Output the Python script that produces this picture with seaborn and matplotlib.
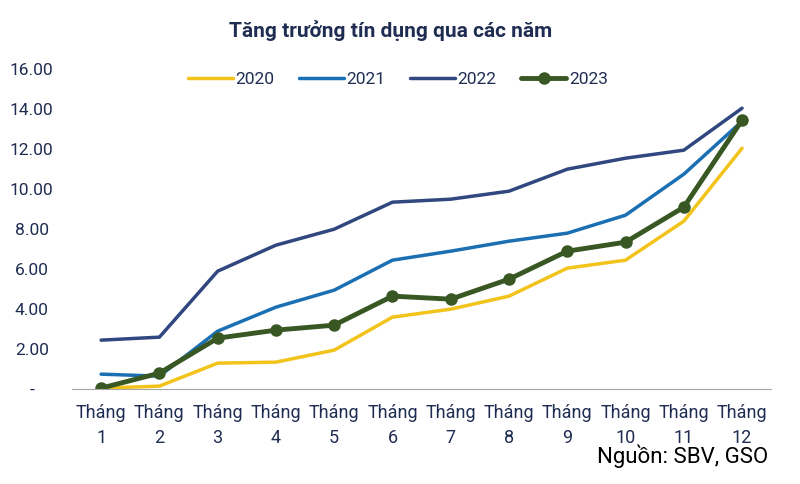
import seaborn as sns
import pandas as pd
import matplotlib.pyplot as plt

# data (% credit growth, cumulative by month)
months = list(range(1, 13))
month_labels = ["Tháng\n%d" % m for m in months]
g2020 = [0.05, 0.15, 1.30, 1.35, 1.95, 3.60, 4.00, 4.65, 6.05, 6.45, 8.40, 12.05]
g2021 = [0.75, 0.65, 2.90, 4.10, 4.95, 6.45, 6.90, 7.40, 7.80, 8.70, 10.75, 13.40]
g2022 = [2.45, 2.60, 5.90, 7.20, 8.00, 9.35, 9.50, 9.90, 11.00, 11.55, 11.95, 14.05]
g2023 = [0.05, 0.80, 2.55, 2.95, 3.20, 4.65, 4.50, 5.50, 6.90, 7.35, 9.10, 13.45]
y_ticks = [0, 2, 4, 6, 8, 10, 12, 14, 16]
y_labels = ["-", "2.00", "4.00", "6.00", "8.00", "10.00", "12.00", "14.00", "16.00"]

sns.set_style("white")
plt.rcParams['font.family'] = ['Roboto', 'DejaVu Sans']
navy = "#1F2D52"

df = pd.DataFrame({"month": months, "2020": g2020, "2021": g2021,
                   "2022": g2022, "2023": g2023})

fig = plt.figure(figsize=(8, 4.84), dpi=100)
ax = fig.add_axes([0.09, 0.196, 0.874, 0.661])

sns.lineplot(data=df, x="month", y="2020", color="#F2C31B", linewidth=2.5, label="2020", ax=ax)
sns.lineplot(data=df, x="month", y="2021", color="#1B6FB3", linewidth=2.5, label="2021", ax=ax)
sns.lineplot(data=df, x="month", y="2022", color="#30487F", linewidth=2.5, label="2022", ax=ax)
sns.lineplot(data=df, x="month", y="2023", color="#385723", linewidth=3.5, marker="o",
             markersize=9, markeredgewidth=0, label="2023", ax=ax)

ax.set_xlim(0.5, 12.5)
ax.set_ylim(0, 16)
ax.set_yticks(y_ticks)
ax.set_yticklabels(y_labels, fontsize=12.5, color=navy)
ax.set_xticks(months)
ax.set_xticklabels(month_labels, fontsize=13, color=navy, linespacing=1.45)
ax.set_xticks([m + 0.5 for m in [0] + months], minor=True)
ax.tick_params(axis="x", which="major", length=0, pad=11)
ax.tick_params(axis="x", which="minor", length=6, color="#A6A6A6", width=1, direction="out")
ax.tick_params(axis="y", length=0, pad=29)
for lab in ax.get_yticklabels():
    lab.set_horizontalalignment("center")
ax.set_xlabel("")
ax.set_ylabel("")
for s in ["top", "right", "left"]:
    ax.spines[s].set_visible(False)
ax.spines["bottom"].set_color("#A6A6A6")

ax.legend(loc="upper center", bbox_to_anchor=(0.466, 1.04), ncol=4, frameon=False,
          fontsize=12.5, handlelength=2.6, columnspacing=1.4, handletextpad=0.15,
          labelcolor=navy)

fig.text(0.488, 0.937, "Tăng trưởng tín dụng qua các năm", ha="center", va="center",
         fontsize=15, fontweight="bold", color=navy)
fig.text(0.96, 0.058, "Nguồn: SBV, GSO", ha="right", va="center", fontsize=16, color="black")

fig.savefig("out.png", dpi=100)
